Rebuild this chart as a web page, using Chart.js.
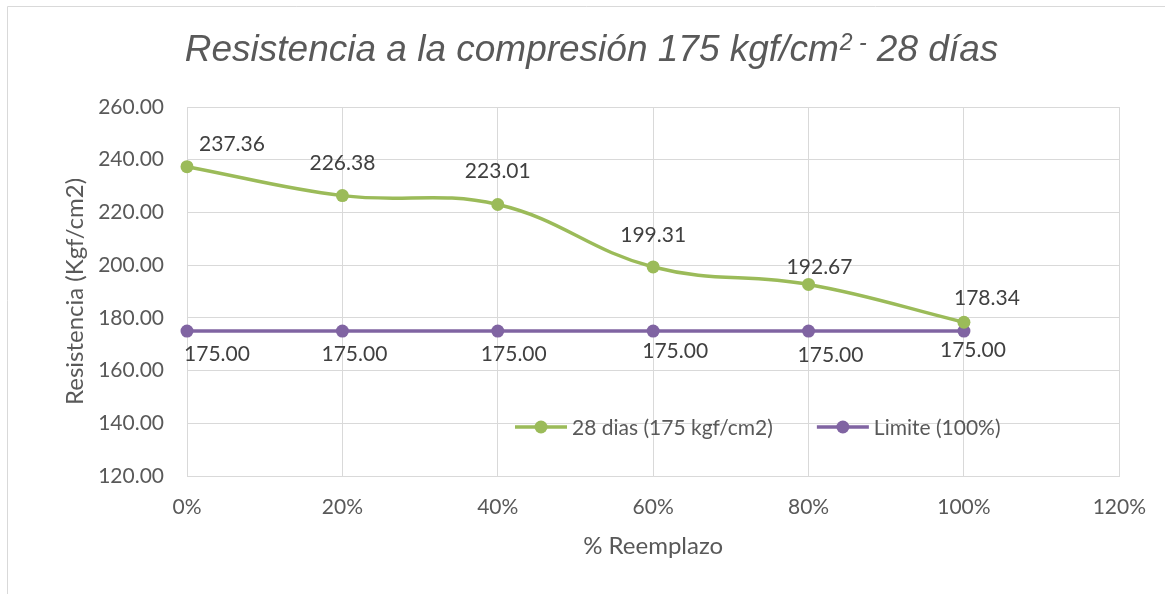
<!DOCTYPE html>
<html>
<head>
<meta charset="utf-8">
<script src="https://cdn.jsdelivr.net/npm/chart.js@4.4.1/dist/chart.umd.min.js"></script>
<style>
    html, body { margin: 0; padding: 0; background: #fff; }
</style>
</head>
<body>
<canvas id="resistenciaChart" width="1165" height="594"></canvas>
<script>
// datos
const reemplazo = [0, 20, 40, 60, 80, 100];
const dias28 = [237.36, 226.38, 223.01, 199.31, 192.67, 178.34];
const limite = [175.00, 175.00, 175.00, 175.00, 175.00, 175.00];
const yMin = 120, yMax = 260, yStep = 20;
const xMin = 0, xMax = 120, xStep = 20;

const verde = "#9BBB59";
const morado = "#8064A2";
const gris = "#595959";
const fuente = "Lato";

// titulo con superindice y marco exterior
const tituloPlugin = {
    id: "titulo",
    beforeDraw(chart) {
        const ctx = chart.ctx;
        ctx.save();
        ctx.strokeStyle = "#d9d9d9";
        ctx.lineWidth = 1;
        ctx.beginPath();
        ctx.moveTo(7.5, chart.height);
        ctx.lineTo(7.5, 6.5);
        ctx.lineTo(chart.width, 6.5);
        ctx.stroke();
        ctx.restore();
    },
    afterDraw(chart) {
        const ctx = chart.ctx;
        const big = 'italic 37px "Liberation Sans"';
        const small = 'italic 23px "Liberation Sans"';
        const p1 = "Resistencia a la compresión 175 kgf/cm";
        const p2 = "2 -";
        const p3 = " 28 días";
        ctx.save();
        ctx.fillStyle = gris;
        ctx.textBaseline = "alphabetic";
        ctx.textAlign = "left";
        ctx.font = big;
        const w1 = ctx.measureText(p1).width;
        const w3 = ctx.measureText(p3).width;
        ctx.font = small;
        const w2 = ctx.measureText(p2).width;
        let x = 591 - (w1 + w2 + w3) / 2;
        const base = 61;
        ctx.font = big;
        ctx.fillText(p1, x, base);
        x += w1 + 1;
        ctx.font = small;
        ctx.fillText(p2, x, base - 11);
        x += w2;
        ctx.font = big;
        ctx.fillText(p3, x, base);
        ctx.restore();
    }
};

// etiquetas de datos
const etiquetasPlugin = {
    id: "etiquetas",
    afterDatasetsDraw(chart, args, opts) {
        const ctx = chart.ctx;
        ctx.save();
        ctx.font = "21px " + fuente;
        ctx.fillStyle = "#404040";
        ctx.textAlign = "center";
        ctx.textBaseline = "middle";
        chart.data.datasets.forEach(function (ds, d) {
            const meta = chart.getDatasetMeta(d);
            const shift = opts.shift[d];
            meta.data.forEach(function (pt, i) {
                ctx.fillText(ds.data[i].y.toFixed(2), pt.x + shift.dx[i], pt.y + shift.dy[i]);
            });
        });
        ctx.restore();
    }
};

// leyenda dentro del area del grafico
const leyendaPlugin = {
    id: "leyenda",
    afterDraw(chart) {
        const ctx = chart.ctx;
        const area = chart.chartArea;
        const y = area.top + 320;
        let x = area.left + 328;
        ctx.save();
        ctx.font = "21px " + fuente;
        ctx.textBaseline = "middle";
        ctx.textAlign = "left";
        chart.data.datasets.forEach(function (ds) {
            ctx.strokeStyle = ds.borderColor;
            ctx.lineWidth = 3.5;
            ctx.beginPath();
            ctx.moveTo(x, y);
            ctx.lineTo(x + 52, y);
            ctx.stroke();
            ctx.fillStyle = ds.backgroundColor;
            ctx.beginPath();
            ctx.arc(x + 26, y, 6.5, 0, Math.PI * 2);
            ctx.fill();
            ctx.fillStyle = gris;
            ctx.fillText(ds.label, x + 57, y + 1);
            x += 57 + ctx.measureText(ds.label).width + 44;
        });
        ctx.restore();
    }
};

let canvas = document.getElementById("resistenciaChart");

new Chart(canvas, {
    type: "line",
    data: {
        datasets: [{
            label: "28 dias (175 kgf/cm2)",
            data: dias28.map((v, i) => ({ x: reemplazo[i], y: v })),
            borderColor: verde,
            backgroundColor: verde,
            borderWidth: 3.5,
            pointRadius: 6.5,
            pointBorderWidth: 0,
            tension: 0.4,
            clip: false,
        }, {
            label: "Limite (100%)",
            data: limite.map((v, i) => ({ x: reemplazo[i], y: v })),
            borderColor: morado,
            backgroundColor: morado,
            borderWidth: 3.5,
            pointRadius: 6.5,
            pointBorderWidth: 0,
            tension: 0,
            clip: false,
        }],
    },
    options: {
        responsive: false,
        animation: false,
        layout: { padding: { top: 107, right: 45, bottom: 0, left: 0 } },
        plugins: {
            legend: { display: false },
            title: { display: false },
            tooltip: { enabled: false },
            etiquetas: {
                shift: [
                    { dx: [45, 0, 0, 0, 11, 23], dy: [-22, -32, -33, -32, -17, -24] },
                    { dx: [30, 12, 16, 22, 22, 9], dy: [23, 23, 23, 20, 24, 19] },
                ],
            },
        },
        scales: {
            x: {
                type: "linear",
                min: xMin,
                max: xMax,
                afterFit(scale) { scale.height = 118; },
                grid: { color: "#d9d9d9", drawTicks: false },
                border: { color: "#d9d9d9" },
                ticks: {
                    stepSize: xStep,
                    autoSkip: false,
                    padding: 19,
                    color: gris,
                    font: { family: fuente, size: 21 },
                    callback: (v) => v + "%",
                },
                title: {
                    display: true,
                    text: "% Reemplazo",
                    color: gris,
                    font: { family: fuente, size: 24 },
                    padding: { top: 0, bottom: 33 },
                },
            },
            y: {
                min: yMin,
                max: yMax,
                afterFit(scale) { scale.width = 187; },
                grid: { color: "#d9d9d9", drawTicks: false },
                border: { color: "#d9d9d9" },
                ticks: {
                    stepSize: yStep,
                    autoSkip: false,
                    padding: 23,
                    color: gris,
                    font: { family: fuente, size: 21 },
                    callback: (v) => v.toFixed(2),
                },
                title: {
                    display: true,
                    text: "Resistencia (Kgf/cm2)",
                    color: gris,
                    font: { family: fuente, size: 24 },
                    padding: { top: 61, bottom: 0 },
                },
            },
        },
    },
    plugins: [tituloPlugin, etiquetasPlugin, leyendaPlugin],
});
</script>
</body>
</html>
